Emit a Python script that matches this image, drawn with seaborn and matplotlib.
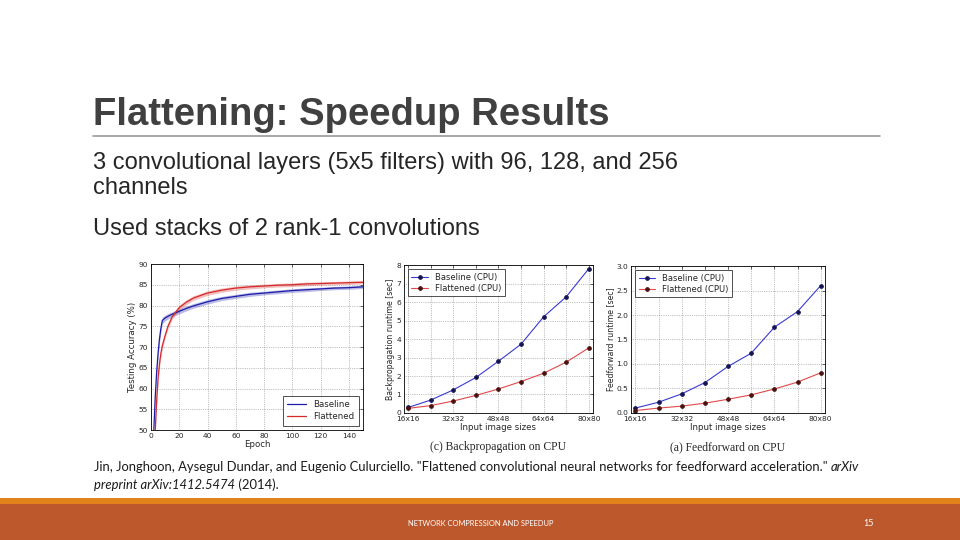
import matplotlib
matplotlib.use("Agg")
import matplotlib.pyplot as plt
from matplotlib.patches import Rectangle
from matplotlib.lines import Line2D
import seaborn as sns
import pandas as pd

# --- data ---
epochs = [2, 3, 4, 5, 6, 7, 8, 10, 12, 15, 20, 25, 30, 40, 50, 60, 70, 80, 90, 100, 110, 120, 130, 140, 150]
baseline_acc = [50.0, 58.0, 64.0, 68.5, 72.0, 74.5, 76.4, 77.0, 77.4, 77.9, 78.6, 79.3, 79.9, 80.9, 81.7, 82.2, 82.7, 83.0, 83.3, 83.6, 83.8, 84.0, 84.2, 84.3, 84.5]
flattened_acc = [45.0, 50.0, 57.0, 62.5, 66.0, 68.5, 70.3, 72.8, 75.0, 77.3, 79.5, 80.8, 81.8, 83.0, 83.7, 84.2, 84.5, 84.7, 84.9, 85.0, 85.2, 85.3, 85.4, 85.5, 85.6]
acc_spread = [0.4, 0.8, 1.0, 1.0, 1.0, 0.9, 0.8, 0.7, 0.65, 0.6, 0.6, 0.6, 0.55, 0.55, 0.5, 0.5, 0.5, 0.45, 0.45, 0.45, 0.45, 0.4, 0.4, 0.4, 0.4]

image_sizes = [16, 24, 32, 40, 48, 56, 64, 72, 80]
size_labels = ["16x16", "", "32x32", "", "48x48", "", "64x64", "", "80x80"]
backprop_baseline = [0.30, 0.70, 1.25, 1.92, 2.80, 3.72, 5.20, 6.28, 7.80]
backprop_flattened = [0.25, 0.40, 0.65, 0.95, 1.30, 1.70, 2.15, 2.75, 3.52]
ff_baseline = [0.10, 0.22, 0.39, 0.62, 0.95, 1.22, 1.75, 2.07, 2.60]
ff_flattened = [0.05, 0.10, 0.14, 0.20, 0.28, 0.37, 0.49, 0.63, 0.82]

sns.set_style("white")
plt.rcParams["font.family"] = ["DejaVu Sans"]

fig = plt.figure(figsize=(9.6, 5.4), dpi=100)
fig.patch.set_facecolor("white")

# slide decoration
fig.text(0.097, 1 - 125 / 540, "Flattening: Speedup Results", fontsize=27.5, fontweight="bold",
         color="#404040", family="Liberation Sans", va="baseline")
fig.add_artist(Line2D([0.097, 0.917], [1 - 136 / 540, 1 - 136 / 540], color="#9a9a9a", lw=1.2))
body = dict(fontsize=17, color="#262626", family="Liberation Sans", va="baseline")
fig.text(0.097, 1 - 169 / 540, "3 convolutional layers (5x5 filters) with 96, 128, and 256", **body)
fig.text(0.097, 1 - 194 / 540, "channels", **body)
fig.text(0.097, 1 - 235 / 540, "Used stacks of 2 rank-1 convolutions", **body)

fig.add_artist(Rectangle((0, 1 - 504 / 540), 1, 6 / 540, transform=fig.transFigure, color="#E2821A", lw=0))
fig.add_artist(Rectangle((0, 0), 1, 36 / 540, transform=fig.transFigure, color="#BC582C", lw=0))
fig.text(0.4245, 1 - 523 / 540, "NETWORK COMPRESSION AND SPEEDUP", fontsize=5.4, color="white",
         family="Lato", va="center")
fig.text(0.905, 1 - 523 / 540, "15", fontsize=6.5, color="white", family="Lato", va="center", ha="center")

# citation, mixed roman / italic
renderer = fig.canvas.get_renderer()
cite_lines = [
    [("Jin, Jonghoon, Aysegul Dundar, and Eugenio Culurciello. \"Flattened convolutional neural networks "
      "for feedforward acceleration.\" ", "normal"), ("arXiv", "italic")],
    [("preprint arXiv:1412.5474", "italic"), (" (2014).", "normal")],
]
for i, parts in enumerate(cite_lines):
    x = 94 / 960
    y = 1 - (471 + 18 * i) / 540
    for txt, style in parts:
        t = fig.text(x, y, txt, fontsize=9.4, style=style, family="Lato", color="#1a1a1a",
                     va="baseline")
        bb = t.get_window_extent(renderer=renderer)
        x += bb.width / fig.bbox.width

tick_kw = dict(labelsize=5.4, direction="in", length=2.5, width=0.5, pad=2)

def style_ax(ax):
    for s in ax.spines.values():
        s.set_linewidth(0.6)
        s.set_color("black")
    ax.grid(True, linestyle=":", color="#888888", linewidth=0.5)
    ax.tick_params(axis="both", which="both", top=True, right=True, **tick_kw)

# --- panel 1: testing accuracy ---
ax1 = fig.add_axes([0.1573, 0.2037, 0.2208, 0.3074])
acc_df = pd.DataFrame({
    "Epoch": epochs * 2,
    "Accuracy": baseline_acc + flattened_acc,
    "Model": ["Baseline"] * len(epochs) + ["Flattened"] * len(epochs),
})
pal1 = {"Baseline": "#1c1ca8", "Flattened": "#d42a2a"}
for name, vals in [("Baseline", baseline_acc), ("Flattened", flattened_acc)]:
    lo = [v - s for v, s in zip(vals, acc_spread)]
    hi = [v + s for v, s in zip(vals, acc_spread)]
    ax1.fill_between(epochs, lo, hi, color=pal1[name], alpha=0.3, lw=0)
sns.lineplot(data=acc_df, x="Epoch", y="Accuracy", hue="Model", palette=pal1, ax=ax1, lw=0.9)
ax1.set_xlim(0, 150)
ax1.set_ylim(50, 90)
ax1.set_xticks(range(0, 150, 20))
ax1.set_yticks(range(50, 91, 5))
ax1.set_xlabel("Epoch", fontsize=6.2, labelpad=1)
ax1.set_ylabel("Testing Accuracy (%)", fontsize=6.2, labelpad=1)
style_ax(ax1)
leg = ax1.legend(loc="lower right", fontsize=6.2, frameon=True, fancybox=False, handlelength=2.2,
                 borderpad=0.5, labelspacing=0.4)
leg.get_frame().set_edgecolor("black")
leg.get_frame().set_linewidth(0.6)

# --- panels 2 & 3: runtimes ---
def runtime_panel(rect, base, flat, ylim, yticks, ylabel, caption):
    ax = fig.add_axes(rect)
    df = pd.DataFrame({
        "Size": image_sizes * 2,
        "Runtime": base + flat,
        "Model": ["Baseline (CPU)"] * len(image_sizes) + ["Flattened (CPU)"] * len(image_sizes),
    })
    sns.lineplot(data=df[df.Model == "Baseline (CPU)"], x="Size", y="Runtime", ax=ax,
                 color="#3a3ad0", lw=0.8, marker="o", markersize=2.6,
                 markerfacecolor="#141450", markeredgecolor="#141450", label="Baseline (CPU)")
    sns.lineplot(data=df[df.Model == "Flattened (CPU)"], x="Size", y="Runtime", ax=ax,
                 color="#e04a4a", lw=0.8, marker="o", markersize=2.6,
                 markerfacecolor="#4a1010", markeredgecolor="#4a1010", label="Flattened (CPU)")
    ax.set_xlim(image_sizes[0] - 1.5, image_sizes[-1] + 1.5)
    ax.set_ylim(*ylim)
    ax.set_yticks(yticks)
    ax.set_xticks(image_sizes)
    ax.set_xticklabels(size_labels)
    ax.set_xlabel("Input image sizes", fontsize=6.2, labelpad=1)
    ax.set_ylabel(ylabel, fontsize=5.6, labelpad=1)
    style_ax(ax)
    lg = ax.legend(loc="upper left", fontsize=6, frameon=True, fancybox=False, handlelength=2.0,
                   borderpad=0.4, labelspacing=0.3)
    lg.get_frame().set_edgecolor("black")
    lg.get_frame().set_linewidth(0.6)
    ax.text(0.5, -0.19, caption, transform=ax.transAxes, ha="center", va="top",
            fontsize=8.4, family="Liberation Serif")
    return ax

runtime_panel([0.4208, 0.2352, 0.1969, 0.274], backprop_baseline, backprop_flattened,
              (0, 8), range(0, 9), "Backpropagation runtime [sec]", "(c) Backpropagation on CPU")
ax3 = runtime_panel([0.6573, 0.2352, 0.2021, 0.2722], ff_baseline, ff_flattened,
                    (0, 3.0), [0, 0.5, 1.0, 1.5, 2.0, 2.5, 3.0], "Feedforward runtime [sec]",
                    "(a) Feedforward on CPU")
ax3.set_yticklabels(["0.0", "0.5", "1.0", "1.5", "2.0", "2.5", "3.0"])

fig.savefig("out.png", dpi=100)
